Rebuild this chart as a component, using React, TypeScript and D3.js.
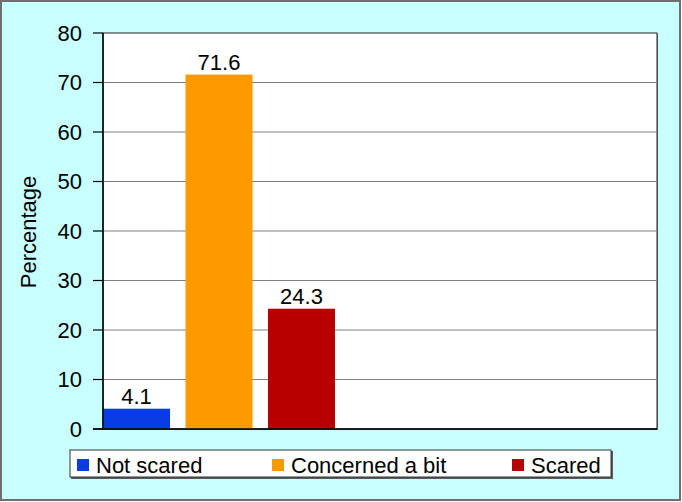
import React from "react";
import * as d3 from "d3";

const categories = ["Not scared", "Concerned a bit", "Scared"];
const values = [4.1, 71.6, 24.3];
const colors = ["#0a3ce6", "#ff9900", "#b80000"];
const yTicks = [0, 10, 20, 30, 40, 50, 60, 70, 80];

export default function App() {
  const W = 682, H = 502;
  const left = 103, right = 657, top = 33, bottom = 429;
  const y = d3.scaleLinear().domain([0, 80]).range([bottom, top]);
  const step = 82.5;
  const x = d3.scaleBand<string>().domain(categories)
    .range([left, left + step * 3 - 15.5]).paddingInner(0.188).paddingOuter(0);
  const font = "Liberation Sans, Arial, sans-serif";
  const legendX = [77, 272, 512];
  return (
    <svg width={W} height={H} style={{ position: "absolute", left: 0, top: 0 }} fontFamily={font}>
      <rect x={1} y={1} width={W - 3} height={H - 3} fill="#c8ffff" stroke="#6e6e6e" strokeWidth={2} />
      <rect x={left + 1} y={top + 1} width={right - left} height={bottom - top} fill="#7a7a7a" />
      <rect x={left} y={top} width={right - left} height={bottom - top} fill="#ffffff" stroke="#222" strokeWidth={1} />
      {yTicks.map(t => (
        <g key={t}>
          {t > 0 && t < 80 && <line x1={left} x2={right} y1={y(t)} y2={y(t)} stroke="#808080" strokeWidth={1.2} />}
          <line x1={left - 10} x2={left} y1={y(t)} y2={y(t)} stroke="#000" strokeWidth={1.2} />
          <text x={82} y={y(t)} dy="0.36em" textAnchor="end" fontSize={22} fill="#000">{t}</text>
        </g>
      ))}
      {categories.map((c, i) => (
        <g key={c}>
          <rect x={x(c)} y={y(values[i])} width={x.bandwidth()} height={bottom - y(values[i])} fill={colors[i]} />
          <text x={(x(c) as number) + x.bandwidth() / 2} y={y(values[i]) - 5} textAnchor="middle" fontSize={22} fill="#000">{values[i]}</text>
        </g>
      ))}
      <line x1={left} x2={left} y1={top} y2={bottom} stroke="#000" strokeWidth={1.5} />
      <line x1={left - 10} x2={right} y1={bottom} y2={bottom} stroke="#000" strokeWidth={1.5} />
      <text transform={`translate(36,232) rotate(-90)`} textAnchor="middle" fontSize={22} fill="#000">Percentage</text>
      <rect x={71} y={451} width={542} height={28} fill="#5a5a5a" />
      <rect x={70} y={450} width={541} height={27} fill="#fff" stroke="#333" strokeWidth={1} />
      {categories.map((c, i) => (
        <g key={c}>
          <rect x={legendX[i]} y={459} width={12} height={12} fill={colors[i]} />
          <text x={legendX[i] + 19} y={473} fontSize={22} fill="#000">{c}</text>
        </g>
      ))}
    </svg>
  );
}
